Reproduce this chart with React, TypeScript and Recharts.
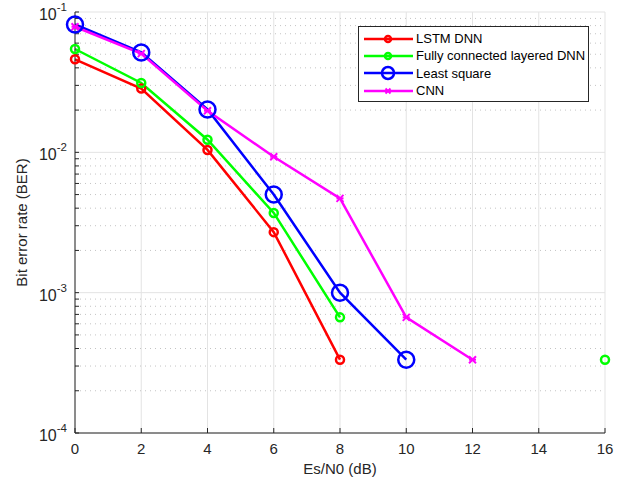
import { CartesianGrid, Legend, Line, LineChart, ReferenceLine, XAxis, YAxis } from 'recharts'

const esn0 = [0, 2, 4, 6, 8, 10, 12, 14, 16]
const lstmBer = [0.046, 0.0285, 0.0104, 0.0027, 0.000333, null, null, null, null]
const fcBer = [0.0545, 0.0312, 0.0123, 0.0037, 0.000667, null, null, null, 0.000333]
const lsBer = [0.0815, 0.0515, 0.0202, 0.005, 0.001, 0.000333, null, null, null]
const cnnBer = [0.0785, 0.0505, 0.0198, 0.0093, 0.0047, 0.000667, 0.000333, null, null]

const xTicks = [0, 2, 4, 6, 8, 10, 12, 14, 16]
const yTicks = [1e-4, 1e-3, 1e-2, 1e-1]
const yTickExp = ['-4', '-3', '-2', '-1']
const minorMant = [2, 3, 4, 5, 6, 7, 8, 9]

const series = [
    { key: 'lstm', name: 'LSTM DNN', color: '#ff0000', marker: 'o', size: 4 },
    { key: 'fc', name: 'Fully connected layered DNN', color: '#00ff00', marker: 'o', size: 4 },
    { key: 'ls', name: 'Least square', color: '#0000ff', marker: 'o', size: 8 },
    { key: 'cnn', name: 'CNN', color: '#ff00ff', marker: 'x', size: 3.5 },
]

const data = esn0.map((x, i) => ({ x, lstm: lstmBer[i], fc: fcBer[i], ls: lsBer[i], cnn: cnnBer[i] }))

const minorValues = yTicks.slice(0, 3).flatMap(d => minorMant.map(m => m * d))
const allYTicks = [...yTicks, ...minorValues].sort((a, b) => a - b)

const axisColor = '#262626'
const font = '"Liberation Sans", Arial, Helvetica, sans-serif'

const Marker = ({ cx, cy, color, marker, size }: any) => {
    if (marker === 'x') {
        return (
            <g stroke={color} strokeWidth={2}>
                <line x1={cx - size} y1={cy - size} x2={cx + size} y2={cy + size} />
                <line x1={cx - size} y1={cy + size} x2={cx + size} y2={cy - size} />
                <line x1={cx - size} y1={cy} x2={cx + size} y2={cy} />
            </g>
        )
    }
    return <circle cx={cx} cy={cy} r={size} fill="none" stroke={color} strokeWidth={2.5} />
}

const makeDot = (s: typeof series[number]) => (props: any) => {
    const { cx, cy, value, index } = props
    if (value == null || cx == null || cy == null) return <g key={`${s.key}-${index}`} />
    return <g key={`${s.key}-${index}`}><Marker cx={cx} cy={cy} color={s.color} marker={s.marker} size={s.size} /></g>
}

const YTick = ({ x, y, payload }: any) => {
    const i = yTicks.indexOf(payload.value)
    if (i < 0) return <g />
    return (
        <text x={x} y={y + 8} textAnchor="end" fill={axisColor} fontSize={16} fontFamily={font}>
            <tspan>10</tspan>
            <tspan dy={-9} fontSize={11.5}>{yTickExp[i]}</tspan>
        </text>
    )
}

const LegendBox = () => (
    <div style={{
        border: '1px solid #262626', background: '#fff', padding: '3px 6px 2px 4px',
        fontFamily: font, fontSize: 13, color: '#000', width: 219,
    }}>
        {series.map(s => (
            <div key={s.key} style={{ display: 'flex', alignItems: 'center', height: 17.3 }}>
                <svg width={53} height={16} style={{ flex: 'none' }}>
                    <line x1={1} x2={50} y1={8} y2={8} stroke={s.color} strokeWidth={2.5} />
                    <Marker cx={25} cy={8} color={s.color} marker={s.marker} size={s.marker === 'o' ? (s.size > 5 ? 6 : 3) : 2.5} />
                </svg>
                <span style={{ whiteSpace: 'nowrap' }}>{s.name}</span>
            </div>
        ))}
    </div>
)

export default function App() {
    return (
        <div style={{ position: 'absolute', left: 0, top: 0, background: '#fff' }}>
            <LineChart width={618} height={483} data={data} margin={{ top: 12, right: 13, bottom: 0, left: 0 }}>
                <CartesianGrid stroke="#e3e3e3" horizontal={false} />
                {yTicks.map(v => (
                    <ReferenceLine key={`maj-${v}`} y={v} stroke="#e3e3e3" />
                ))}
                {minorValues.map(v => (
                    <ReferenceLine key={v} y={v} stroke="#c4c4c4" strokeDasharray="1 4" />
                ))}
                <XAxis
                    dataKey="x"
                    type="number"
                    domain={[0, 16]}
                    ticks={xTicks}
                    height={50}
                    stroke={axisColor}
                    tickSize={-5}
                    tickMargin={15}
                    tick={{ fill: axisColor, fontSize: 15, fontFamily: font }}
                    label={{ value: 'Es/N0 (dB)', position: 'insideBottom', offset: 9, fill: axisColor, fontSize: 15, fontFamily: font }}
                />
                <XAxis
                    xAxisId="top"
                    orientation="top"
                    type="number"
                    domain={[0, 16]}
                    ticks={xTicks}
                    height={0}
                    stroke={axisColor}
                    tickSize={-5}
                    tick={false}
                />
                <YAxis
                    type="number"
                    scale="log"
                    domain={[1e-4, 1e-1]}
                    ticks={allYTicks}
                    interval={0}
                    allowDataOverflow
                    width={75}
                    stroke={axisColor}
                    tickSize={-4}
                    tickMargin={12}
                    tick={<YTick />}
                    label={{ value: 'Bit error rate (BER)', angle: -90, position: 'insideLeft', offset: 22, fill: axisColor, fontSize: 15, fontFamily: font, style: { textAnchor: 'middle' } }}
                />
                <YAxis
                    yAxisId="right"
                    orientation="right"
                    type="number"
                    scale="log"
                    domain={[1e-4, 1e-1]}
                    ticks={allYTicks}
                    interval={0}
                    allowDataOverflow
                    width={0}
                    stroke={axisColor}
                    tickSize={-4}
                    tick={false}
                />
                <Legend
                    layout="vertical"
                    align="center"
                    verticalAlign="middle"
                    wrapperStyle={{ left: 358, top: 26, width: 'auto' }}
                    content={<LegendBox />}
                />
                {series.map(s => (
                    <Line
                        key={s.key}
                        dataKey={s.key}
                        name={s.name}
                        stroke={s.color}
                        strokeWidth={2.5}
                        dot={makeDot(s)}
                        activeDot={false}
                        isAnimationActive={false}
                    />
                ))}
            </LineChart>
        </div>
    )
}
